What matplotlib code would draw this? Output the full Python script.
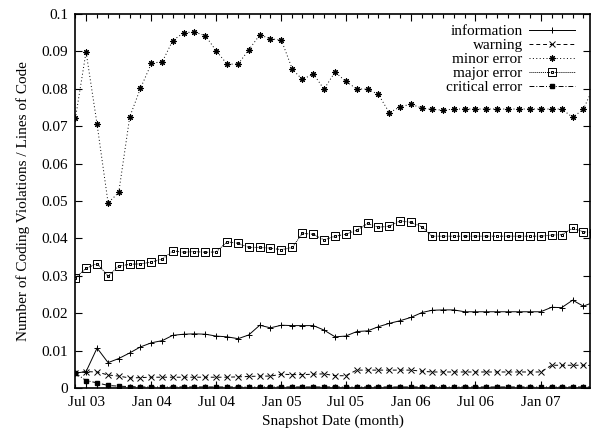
import datetime as dt
import matplotlib
matplotlib.use('Agg')
import matplotlib.pyplot as plt
import matplotlib.dates as mdates
from matplotlib.path import Path
from matplotlib.transforms import Affine2D

# monthly snapshots, Jun 2003 .. Jun 2007
months = [dt.date(2003 + (5 + i) // 12, (5 + i) % 12 + 1, 1) for i in range(49)]

information = [0.0040, 0.0044, 0.0107, 0.0068, 0.0079, 0.0094, 0.0110, 0.0121, 0.0127, 0.0141,
               0.0144, 0.0145, 0.0144, 0.0139, 0.0137, 0.0132, 0.0142, 0.0168, 0.0161, 0.0168,
               0.0167, 0.0167, 0.0167, 0.0155, 0.0137, 0.0139, 0.0151, 0.0153, 0.0164, 0.0173,
               0.0180, 0.0189, 0.0202, 0.0208, 0.0209, 0.0209, 0.0204, 0.0204, 0.0204, 0.0204,
               0.0204, 0.0204, 0.0204, 0.0204, 0.0216, 0.0215, 0.0235, 0.0219, 0.0230]
warning = [0.0040, 0.0044, 0.0043, 0.0035, 0.0032, 0.0027, 0.0028, 0.0029, 0.0029, 0.0029,
           0.0029, 0.0029, 0.0029, 0.0029, 0.0029, 0.0030, 0.0031, 0.0032, 0.0032, 0.0037,
           0.0036, 0.0036, 0.0037, 0.0038, 0.0033, 0.0033, 0.0048, 0.0048, 0.0048, 0.0048,
           0.0048, 0.0048, 0.0045, 0.0043, 0.0043, 0.0043, 0.0043, 0.0043, 0.0043, 0.0043,
           0.0043, 0.0043, 0.0043, 0.0043, 0.0061, 0.0061, 0.0061, 0.0061, 0.0060]
minor_error = [0.0721, 0.0899, 0.0705, 0.0495, 0.0523, 0.0725, 0.0801, 0.0868, 0.0873, 0.0929,
               0.0950, 0.0952, 0.0942, 0.0902, 0.0866, 0.0866, 0.0904, 0.0944, 0.0934, 0.0930,
               0.0852, 0.0825, 0.0840, 0.0799, 0.0845, 0.0820, 0.0800, 0.0799, 0.0785, 0.0736,
               0.0752, 0.0759, 0.0748, 0.0745, 0.0743, 0.0746, 0.0746, 0.0746, 0.0746, 0.0746,
               0.0746, 0.0746, 0.0746, 0.0746, 0.0746, 0.0746, 0.0724, 0.0745, 0.0810]
major_error = [0.0295, 0.0320, 0.0333, 0.0299, 0.0326, 0.0331, 0.0332, 0.0337, 0.0345, 0.0367,
               0.0363, 0.0365, 0.0363, 0.0364, 0.0391, 0.0387, 0.0376, 0.0376, 0.0374, 0.0370,
               0.0376, 0.0414, 0.0411, 0.0396, 0.0406, 0.0411, 0.0422, 0.0440, 0.0430, 0.0433,
               0.0447, 0.0443, 0.0431, 0.0406, 0.0406, 0.0406, 0.0406, 0.0406, 0.0406, 0.0406,
               0.0406, 0.0406, 0.0406, 0.0406, 0.0409, 0.0410, 0.0427, 0.0418, 0.0415]
critical_error = [0.0040, 0.0020, 0.0014, 0.0007, 0.0005, 0.0004, 0.0003, 0.0003, 0.0003, 0.0003,
                  0.0003, 0.0003, 0.0003, 0.0003, 0.0003, 0.0003, 0.0003, 0.0003, 0.0003, 0.0003,
                  0.0003, 0.0003, 0.0003, 0.0003, 0.0003, 0.0003, 0.0003, 0.0003, 0.0003, 0.0003,
                  0.0003, 0.0003, 0.0003, 0.0003, 0.0003, 0.0003, 0.0003, 0.0003, 0.0003, 0.0003,
                  0.0003, 0.0003, 0.0003, 0.0003, 0.0003, 0.0003, 0.0003, 0.0003, 0.0003]

plt.rcParams['font.family'] = ['Liberation Serif', 'DejaVu Serif']
plt.rcParams['font.size'] = 11

# gnuplot style box with a dot in the middle
box_dot = Path.make_compound_path(
    Path.unit_rectangle().transformed(Affine2D().translate(-0.5, -0.5)),
    Path.unit_rectangle().transformed(Affine2D().translate(-0.5, -0.5).scale(0.15)))

fig = plt.figure(figsize=(5.91, 4.38), dpi=100)
ax = fig.add_axes([0.127, 0.114, 0.872, 0.854])

lw = 0.7
ax.plot(months, information, color='black', lw=lw, ls='-', marker='+', ms=5, mew=0.7,
        label='information')
ax.plot(months, warning, color='black', lw=lw, ls=(0, (4, 3)), marker='x', ms=3.8, mew=0.7,
        label='warning')
ax.plot(months, minor_error, color='black', lw=lw, ls=(0, (1, 2.5)), marker=(8, 2, 0), ms=4.5,
        mew=0.8, label='minor error')
ax.plot(months, major_error, color='black', lw=lw, ls=(0, (1, 1)), marker=box_dot, ms=5.5,
        mew=0.7, mfc='none', label='major error')
ax.plot(months, critical_error, color='black', lw=lw, ls=(0, (5, 2, 1, 2)), marker='s', ms=3.3,
        label='critical error')

ax.set_xlim(mdates.date2num(dt.date(2003, 5, 31)), mdates.date2num(dt.date(2007, 5, 21)))
ax.set_ylim(0, 0.1)
ax.xaxis.set_major_locator(mdates.MonthLocator(bymonth=[1, 7]))
ax.xaxis.set_minor_locator(mdates.MonthLocator())
ax.xaxis.set_major_formatter(mdates.DateFormatter('%b %y'))
ax.set_yticks([i / 100 for i in range(11)])
ax.set_yticklabels(['0'] + ['%g' % (i / 100) for i in range(1, 11)])

ax.tick_params(which='both', direction='in', top=True, right=True, width=0.8)
ax.tick_params(which='major', length=5, pad=6)
ax.tick_params(which='minor', length=3)
ax.tick_params(axis='y', pad=5)
for s in ax.spines.values():
    s.set_linewidth(1.2)

ax.set_xlabel('Snapshot Date (month)', labelpad=4)
ax.set_ylabel('Number of Coding Violations / Lines of Code', labelpad=8)

leg = ax.legend(loc='upper right', frameon=False, markerfirst=False, handlelength=3.0,
                handletextpad=0.4, labelspacing=0.02, borderaxespad=0.3,
                bbox_to_anchor=(0.99, 1.0))

fig.savefig('out.png', dpi=100)
